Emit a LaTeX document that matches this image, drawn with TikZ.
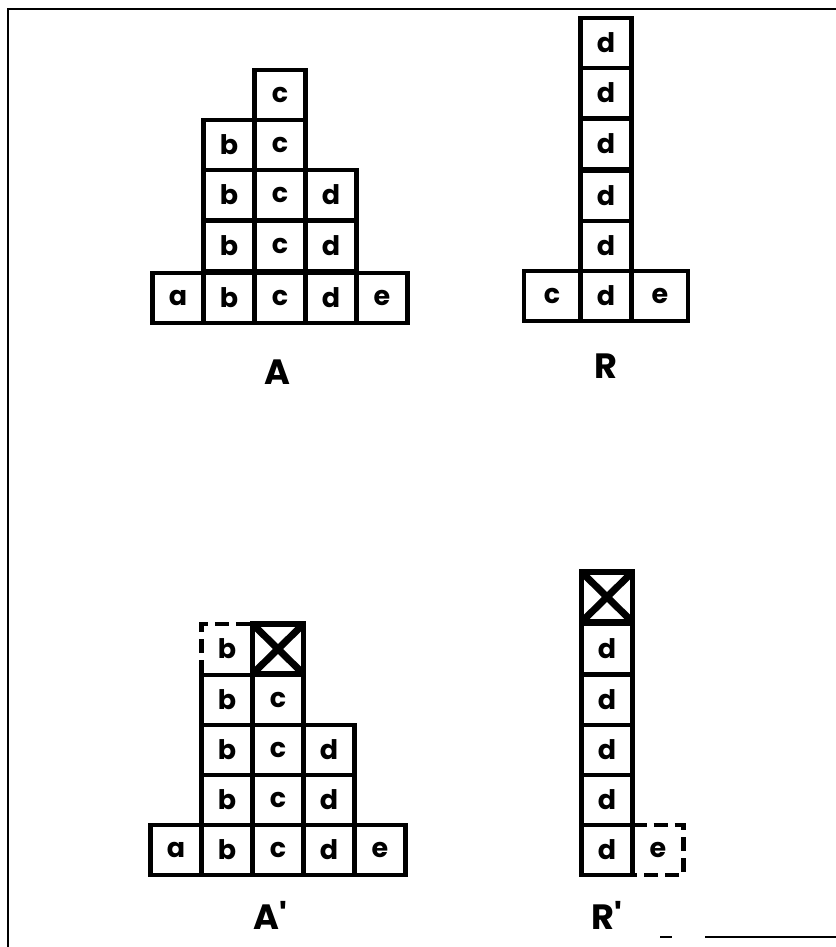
\documentclass[tikz,border=0pt]{standalone}
\usepackage{fontspec}
\setmainfont{Poppins}
\usetikzlibrary{positioning}
\tikzset{cell/.style={draw,line width=3.6pt,outer sep=0pt,minimum width=1.53cm,minimum height=1.5cm,inner sep=0pt,font=\fontsize{23}{25}\selectfont\bfseries},
wide/.style={cell,minimum width=1.7cm},
blank/.style={cell,draw=none},
dashedge/.style={line width=3.6pt,dash pattern=on 12pt off 6pt},
cross/.style={line width=6pt},
tag/.style={inner sep=0pt,font=\fontsize{30}{32}\selectfont\bfseries}}

\begin{document}
\begin{tikzpicture}[x=0.03cm,y=-0.03cm]
\useasboundingbox(0,0)rectangle(836,947);
\draw[line width=1.8pt](8,947)--(8,9)--(836,9);\draw[line width=1pt](660,937)--(672,937)(705,937)--(836,937);
% A
\node[cell](a1)at(178,298){a};\node[cell](b1)at(229,298){b};\node[cell](c1)at(280,298){c};\node[cell](d1)at(331,298){d};\node[cell](e1)at(382,298){e};
\node[cell](b2)at(229,246){b};\node[cell](c2)at(280,246){c};\node[cell](d2)at(331,246){d};
\node[cell](b3)at(229,195){b};\node[cell](c3)at(280,195){c};\node[cell](d3)at(331,195){d};
\node[cell](b4)at(229,145){b};\node[cell](c4)at(280,145){c};
\node[cell](c5)at(280,95){c};
\node[tag](la)at(277,372){A};
% R
\node[wide](rc)at(552,296){c};\node[cell](rd1)at(606,296){d};\node[wide](re)at(660,296){e};
\node[cell](rd2)at(606,246){d};\node[cell](rd3)at(606,196){d};\node[cell](rd4)at(606,144){d};\node[cell](rd5)at(606,93){d};\node[cell](rd6)at(606,43){d};
\node[tag](lr)at(606,366){R};
% A'
\node[cell](pa1)at(176,850){a};\node[cell](pb1)at(227,850){b};\node[cell](pc1)at(278,850){c};\node[cell](pd1)at(329,850){d};\node[cell](pe1)at(380,850){e};
\node[cell](pb2)at(227,800){b};\node[cell](pc2)at(278,800){c};\node[cell](pd2)at(329,800){d};
\node[cell](pb3)at(227,750){b};\node[cell](pc3)at(278,750){c};\node[cell](pd3)at(329,750){d};
\node[cell](pb4)at(227,700){b};\node[cell](pc4)at(278,700){c};
\node[blank](pb5)at(227,649){b};\node[cell,line width=4.5pt](px)at(278,649){};
\draw[dashedge](pb5.south west)--(pb5.north west)--(pb5.north east);
\draw[cross](px.north west)--(px.south east)(px.north east)--(px.south west);
\node[tag](lpa)at(270,915){A\textquotesingle};
% R'
\node[cell](qd1)at(607,850){d};\node[blank](qe)at(658,850){e};
\node[cell](qd2)at(607,800){d};\node[cell](qd3)at(607,750){d};\node[cell](qd4)at(607,700){d};\node[cell](qd5)at(607,649){d};
\node[cell,line width=4.5pt](qx)at(607,597){};
\draw[dashedge](qe.north west)--(qe.north east)--(qe.south east)--(qe.south west);
\draw[cross](qx.north west)--(qx.south east)(qx.north east)--(qx.south west);
\node[tag](lpr)at(607,915){R\textquotesingle};
\end{tikzpicture}
\end{document}
